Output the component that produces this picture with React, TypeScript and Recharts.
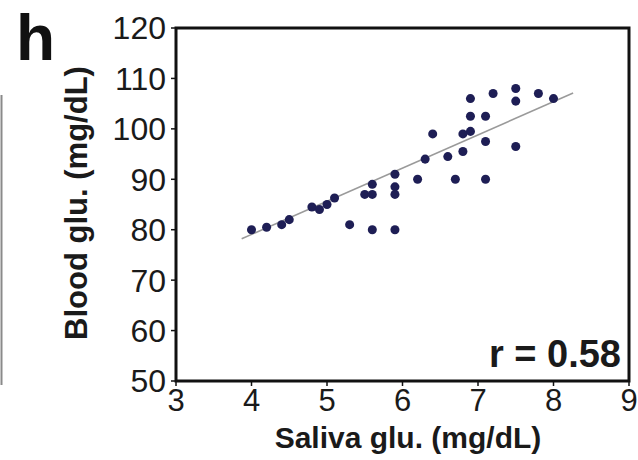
import {
  ScatterChart,
  Scatter,
  XAxis,
  YAxis,
  ZAxis,
  ReferenceArea,
  ReferenceLine,
} from "recharts";

// saliva glucose (x) vs blood glucose (y)
const salivaGlu = [
  4.0, 4.2, 4.4, 4.5, 4.8, 4.9, 5.0, 5.1, 5.3, 5.5, 5.6, 5.6, 5.6, 5.9, 5.9, 5.9,
  5.9, 6.2, 6.3, 6.4, 6.6, 6.7, 6.8, 6.8, 6.9, 6.9, 6.9, 7.1, 7.1, 7.1, 7.2, 7.5,
  7.5, 7.5, 7.8, 8.0,
];
const bloodGlu = [
  80, 80.5, 81, 82, 84.5, 84, 85, 86.3, 81, 87, 87, 89, 80, 91, 88.5, 87,
  80, 90, 94, 99, 94.5, 90, 99, 95.5, 106, 102.5, 99.5, 102.5, 97.5, 90, 107, 108,
  105.5, 96.5, 107, 106,
];

// regression line end points
const fitX = [3.87, 8.26];
const fitY = [78.2, 107.1];

const xTicks = [3, 4, 5, 6, 7, 8, 9];
const yTicks = [50, 60, 70, 80, 90, 100, 110, 120];

const data = salivaGlu.map((x, i) => ({ x, y: bloodGlu[i] }));
const fit = fitX.map((x, i) => ({ x, y: fitY[i] }));

const font = "Arial, 'Liberation Sans', sans-serif";
const tickStyle = { fontSize: 31, fill: "#1a1a1a", fontFamily: font };

export default function App() {
  return (
    <div style={{ position: "absolute", left: 0, top: 0, width: 638, height: 460, background: "#fff" }}>
      <ScatterChart
        width={638}
        height={460}
        margin={{ top: 28, right: 9, bottom: 49, left: 106 }}
      >
        <XAxis
          type="number"
          dataKey="x"
          domain={[3, 9]}
          ticks={xTicks}
          axisLine={false}
          tickLine={{ stroke: "#111", strokeWidth: 1.5 }}
          tickSize={5}
          tickMargin={3}
          height={30}
          tick={tickStyle}
          interval={0}
        />
        <YAxis
          type="number"
          dataKey="y"
          domain={[50, 120]}
          ticks={yTicks}
          axisLine={false}
          tickLine={{ stroke: "#111", strokeWidth: 1.5 }}
          tickSize={5}
          tickMargin={5}
          width={70}
          tick={{ ...tickStyle, fontSize: 32 }}
          interval={0}
        />
        <ZAxis range={[13, 13]} />
        <ReferenceArea
          x1={3}
          x2={9}
          y1={50}
          y2={120}
          fill="none"
          stroke="#111"
          strokeWidth={3}
          ifOverflow="visible"
        />
        <ReferenceLine
          segment={fit}
          stroke="#9a9a9a"
          strokeWidth={1.5}
          ifOverflow="visible"
        />
        <Scatter data={data} fill="#1e1e55" isAnimationActive={false} />
      </ScatterChart>

      <svg
        width={638}
        height={460}
        style={{ position: "absolute", left: 0, top: 0, pointerEvents: "none" }}
      >
        <line x1={1.5} y1={95} x2={1.5} y2={385} stroke="#8a8a8a" strokeWidth={2} />
        <text x={16} y={60} fontSize={64} fontWeight="bold" fontFamily={font} fill="#111">
          h
        </text>
        <text
          x={87}
          y={203}
          transform="rotate(-90 87 203)"
          textAnchor="middle"
          fontSize={31}
          fontWeight="bold"
          fontFamily={font}
          fill="#1a1a1a"
        >
          Blood glu. (mg/dL)
        </text>
        <text
          x={408}
          y={448}
          textAnchor="middle"
          fontSize={30}
          fontWeight="bold"
          fontFamily={font}
          fill="#1a1a1a"
        >
          Saliva glu. (mg/dL)
        </text>
        <text
          x={621}
          y={367}
          textAnchor="end"
          fontSize={38}
          fontWeight="bold"
          fontFamily={font}
          fill="#1a1a1a"
        >
          r = 0.58
        </text>
      </svg>
    </div>
  );
}
